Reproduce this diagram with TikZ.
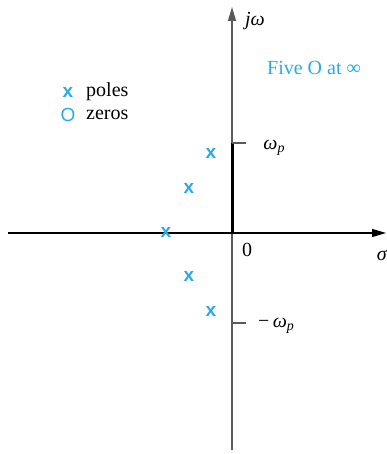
\documentclass[tikz,border=0pt]{standalone}
\usepackage{fontspec}
\setmainfont{Liberation Serif}
\newfontfamily\marksans{Liberation Sans}
\usetikzlibrary{arrows.meta}
\definecolor{pzcyan}{RGB}{41,171,226}
\definecolor{axisgray}{RGB}{90,90,90}
\newcommand{\wsub}{\textit{ω}\raisebox{-0.35ex}{\fontsize{14}{15}\selectfont\textit{p}}}
\begin{document}
\begin{tikzpicture}[x=1pt,y=1pt,
  lbl/.style={font=\fontsize{20}{22}\selectfont, inner sep=0pt},
  cyanlbl/.style={lbl, text=pzcyan},
  polemark/.style={font=\marksans\bfseries\fontsize{19}{21}\selectfont, text=pzcyan, inner sep=0pt},
  zeromark/.style={font=\marksans\fontsize{19}{21}\selectfont, text=pzcyan, inner sep=0pt},
  axisline/.style={line width=1.3pt, -{Triangle[length=14pt,width=8pt]}},
  tick/.style={line width=1.1pt, axisgray}]
\useasboundingbox (0,0) rectangle (387,454);
% axes coordinates
\coordinate (O) at (232,221);
\coordinate (top) at (232,447);
\coordinate (bot) at (232,4);
\coordinate (left) at (8,221);
\coordinate (right) at (386,221);
\coordinate (wp) at (232,311);
\coordinate (wpt) at (246,311);
\coordinate (mwp) at (232,131);
\coordinate (mwpt) at (246,131);
% axes
\draw[axisline, axisgray] (bot) -- (top);
\draw[axisline, black] (left) -- (right);
\draw[line width=3pt, black] (O) -- (wp);
\draw[tick] (wp) -- (wpt);
\draw[tick] (mwp) -- (mwpt);
% labels
\node[lbl] (jw) at (255,433) {\textit{jω}};
\node[lbl] (sig) at (382,199) {\textit{σ}};
\node[lbl] (zero) at (247,204) {0};
\node[lbl] (wplbl) at (274,306) {\wsub};
\node[lbl] (mwplbl) at (276,128) {−\,\wsub};
\node[cyanlbl] (five) at (314,386) {Five O at ∞};
% legend
\node[polemark] (lx) at (68,362) {x};
\node[lbl, anchor=west] (lp) at (86,362) {poles};
\node[zeromark] (lo) at (68,339) {O};
\node[lbl, anchor=west] (lz) at (86,339) {zeros};
% poles
\node[polemark] (p1) at (211,301) {x};
\node[polemark] (p2) at (189,266) {x};
\node[polemark] (p3) at (166,222) {x};
\node[polemark] (p4) at (189,178) {x};
\node[polemark] (p5) at (211,143) {x};
\end{tikzpicture}
\end{document}
